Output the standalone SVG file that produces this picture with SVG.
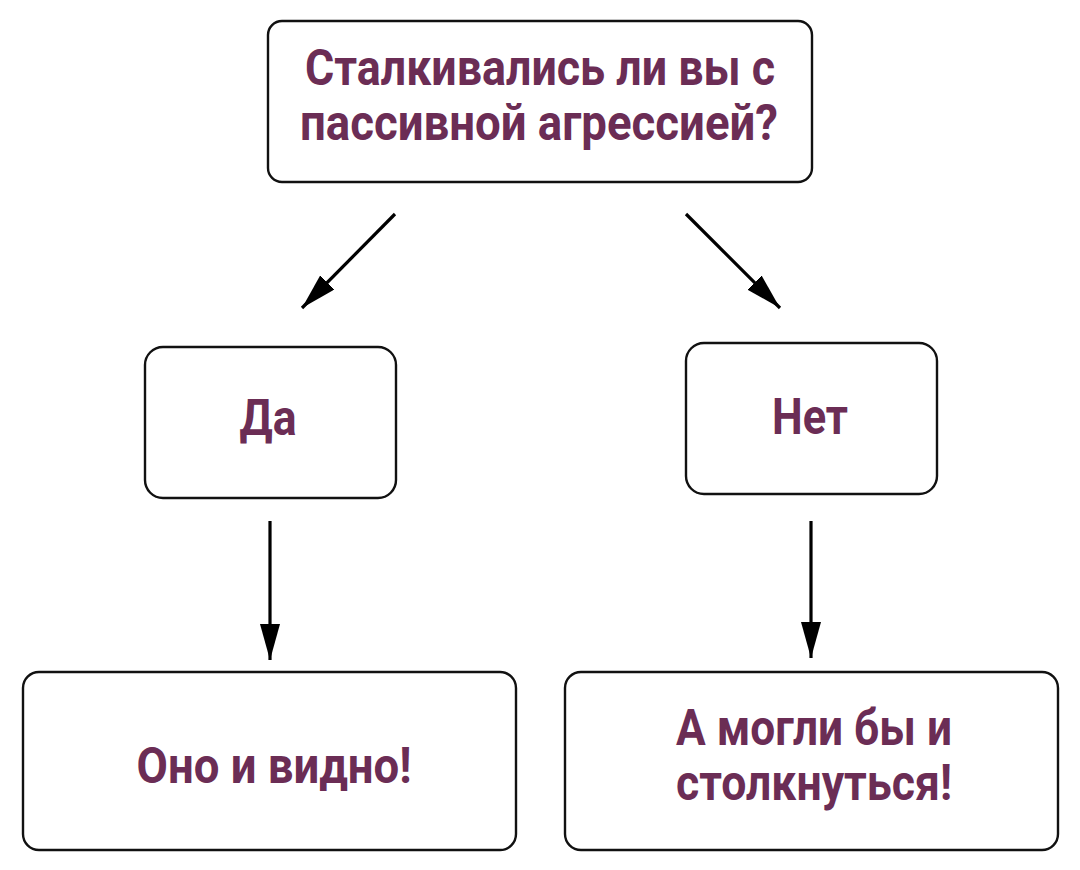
<svg xmlns="http://www.w3.org/2000/svg" width="1080" height="870" viewBox="0 0 1080 870">
<style>
.box{fill:#fff;stroke:#111;stroke-width:2.4}
.t{font-family:Roboto,"Liberation Sans",sans-serif;font-weight:700;font-size:50px;fill:#6b2d55;text-anchor:middle}
.c{stroke:#000;stroke-width:3.2;fill:none}
</style>
<defs>
<marker id="ah" markerUnits="userSpaceOnUse" markerWidth="36" markerHeight="20" refX="36" refY="10" orient="auto" viewBox="0 0 36 20">
<path d="M0,0 L36,10 L0,20 z" fill="#000"/>
</marker>
</defs>
<rect width="1080" height="870" fill="#fff"/>
<g id="connectors">
<line class="c" x1="395" y1="214" x2="302" y2="308" marker-end="url(#ah)"/>
<line class="c" x1="686" y1="214" x2="780" y2="308" marker-end="url(#ah)"/>
<line class="c" x1="270" y1="521" x2="270" y2="660" marker-end="url(#ah)"/>
<line class="c" x1="811" y1="521" x2="811" y2="658" marker-end="url(#ah)"/>
</g>
<g id="q">
<rect class="box" x="268" y="21" width="544" height="161" rx="14"/>
<text class="t" x="540" y="85" textLength="470" lengthAdjust="spacingAndGlyphs">Сталкивались ли вы с</text>
<text class="t" x="539" y="140" textLength="478" lengthAdjust="spacingAndGlyphs">пассивной агрессией?</text>
</g>
<g id="yes">
<rect class="box" x="145" y="347" width="251" height="151" rx="18"/>
<text class="t" x="268" y="435" textLength="57" lengthAdjust="spacingAndGlyphs">Да</text>
</g>
<g id="no">
<rect class="box" x="686" y="343" width="251" height="151" rx="18"/>
<text class="t" x="810" y="434" textLength="76" lengthAdjust="spacingAndGlyphs">Нет</text>
</g>
<g id="yes-result">
<rect class="box" x="23" y="672" width="493" height="178" rx="16"/>
<text class="t" x="274" y="783" textLength="275" lengthAdjust="spacingAndGlyphs">Оно и видно!</text>
</g>
<g id="no-result">
<rect class="box" x="565" y="672" width="493" height="178" rx="16"/>
<text class="t" x="814" y="745" textLength="276" lengthAdjust="spacingAndGlyphs">А могли бы и</text>
<text class="t" x="814" y="800" textLength="276" lengthAdjust="spacingAndGlyphs">столкнуться!</text>
</g>
</svg>
